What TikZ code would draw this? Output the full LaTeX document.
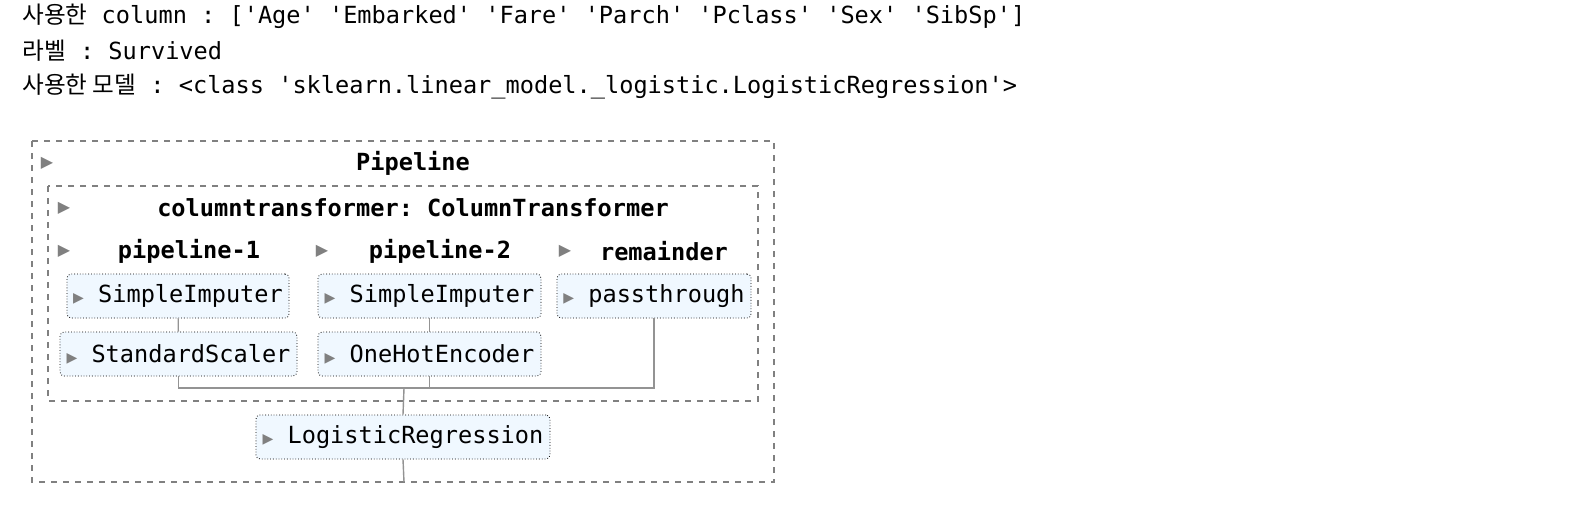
\documentclass[tikz,border=0pt]{standalone}
\usepackage{fontspec}
\setmonofont{DejaVu Sans Mono}
\newfontfamily\kr{Noto Sans CJK KR}
\newfontfamily\sym{DejaVu Sans}
\begin{document}
\begin{tikzpicture}[x=0.5pt,y=-0.5pt,
  every node/.style={font=\fontsize{11.8pt}{14pt}\ttfamily, inner sep=0pt},
  txt/.style={anchor=west},
  hdr/.style={font=\fontsize{11.8pt}{14pt}\ttfamily\bfseries},
  tri/.style={text=gray, font=\fontsize{8pt}{9pt}\sym},
  est/.style={draw=black, densely dotted, rounded corners=2pt, fill={rgb,255:red,240;green,248;blue,255}, minimum height=22pt},
  box/.style={draw=gray, dashed, line width=0.6pt},
  con/.style={draw=gray!85, line width=0.7pt}]
\useasboundingbox (0,0) rectangle (1582,524);
\node[txt] (l1) at (22,16) {{\kr 사용한} column : ['Age' 'Embarked' 'Fare' 'Parch' 'Pclass' 'Sex' 'SibSp']};
\node[txt] (l2) at (22,51) {{\kr 라벨} : Survived};
\node[txt] (l3) at (22,87) {{\kr 사용한 모델} : <class 'sklearn.linear\_model.\_logistic.LogisticRegression'>};
\draw[box] (32,141) rectangle (774,482);
\draw[box] (48,186) rectangle (758,401);
\node[tri] (t0) at (47,163) {▶};
\node[hdr] (pl) at (413,163) {Pipeline};
\node[tri] (t1) at (64,208) {▶};
\node[hdr] (ct) at (413,208) {columntransformer: ColumnTransformer};
\node[tri] (t2) at (64,251) {▶};
\node[hdr] (p1) at (189,251) {pipeline-1};
\node[tri] (t3) at (322,251) {▶};
\node[hdr] (p2) at (440,251) {pipeline-2};
\node[tri] (t4) at (565,251) {▶};
\node[hdr] (rm) at (664,251) {remainder};
\node[est, minimum width=111pt] (si1) at (178,296) {{\color{gray}\fontsize{7pt}{8pt}\sym▶} SimpleImputer};
\node[est, minimum width=118.5pt] (ss) at (178.5,354) {{\color{gray}\fontsize{7pt}{8pt}\sym▶} StandardScaler};
\node[est, minimum width=111.5pt] (si2) at (429.5,296) {{\color{gray}\fontsize{7pt}{8pt}\sym▶} SimpleImputer};
\node[est, minimum width=111.5pt] (ohe) at (429.5,354) {{\color{gray}\fontsize{7pt}{8pt}\sym▶} OneHotEncoder};
\node[est, minimum width=97pt] (pt) at (654,296) {{\color{gray}\fontsize{7pt}{8pt}\sym▶} passthrough};
\node[est, minimum width=147pt] (lr) at (403,437) {{\color{gray}\fontsize{7pt}{8pt}\sym▶} LogisticRegression};
\coordinate (j) at (404,388);
\coordinate (e) at (404,482);
\draw[con] (si1) -- (ss);
\draw[con] (si2) -- (ohe);
\draw[con] (ss.south) |- (j);
\draw[con] (ohe.south) |- (j);
\draw[con] (pt.south) |- (j);
\draw[con] (j) -- (lr.north);
\draw[con] (lr.south) -- (e);
\end{tikzpicture}
\end{document}
